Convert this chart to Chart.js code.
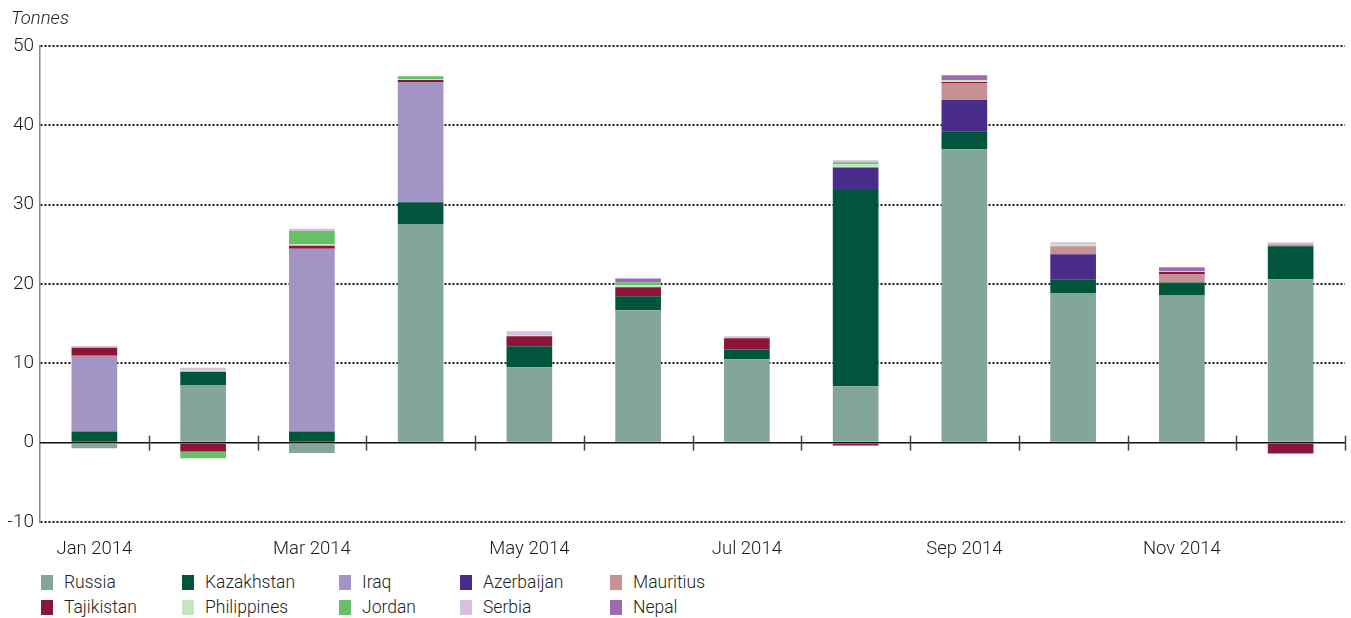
<!DOCTYPE html>
<html lang="en">
<head>
    <meta charset="UTF-8">
    <title>Tonnes by origin, 2014</title>
    <script src="https://cdn.jsdelivr.net/npm/chart.js"></script>
    <style>
        body {
            margin: 0;
            padding: 0;
            background: #fff;
            font-family: 'Roboto', 'Liberation Sans', sans-serif;
            color: #222;
        }

        .wrap {
            position: relative;
            width: 1351px;
            height: 618px;
        }

        .chart-box {
            position: absolute;
            left: 0;
            top: 0;
            width: 1351px;
            height: 562px;
        }

        .unit {
            position: absolute;
            left: 11px;
            top: 7px;
            font-size: 18.5px;
            font-style: italic;
            font-weight: 300;
        }

        .legend {
            position: absolute;
            left: 0;
            top: 572px;
            width: 1351px;
        }

        .legend .item {
            position: absolute;
            font-size: 17.5px;
            font-weight: 300;
            line-height: 20px;
            white-space: nowrap;
        }

        .legend .item span {
            display: inline-block;
            width: 12px;
            height: 15px;
            margin-right: 11px;
            vertical-align: -2px;
        }
    </style>
</head>
<body>
    <div class="wrap">
        <div class="chart-box">
            <canvas id="myChart"></canvas>
        </div>
        <div class="unit">Tonnes</div>
        <div class="legend" id="legend"></div>
    </div>
    <script>
        const months = ['Jan 2014', 'Feb 2014', 'Mar 2014', 'Apr 2014', 'May 2014', 'Jun 2014',
                        'Jul 2014', 'Aug 2014', 'Sep 2014', 'Oct 2014', 'Nov 2014', 'Dec 2014'];

        const russia      = [-0.7, 7.2, -1.3, 27.5, 9.5, 16.7, 10.5, 7.1, 37.0, 18.8, 18.55, 20.6];
        const kazakhstan  = [1.4, 1.75, 1.4, 2.8, 2.65, 1.75, 1.25, 24.75, 2.25, 1.8, 1.65, 4.15];
        const iraq        = [9.4, 0, 23.05, 15.15, 0, 0, 0, 0, 0, 0, 0, 0];
        const azerbaijan  = [0, 0, 0, 0, 0, 0, 0, 2.85, 3.95, 3.15, 0, 0];
        const mauritius   = [0.15, 0, 0, 0, 0, 0, 0, 0, 2.15, 1.0, 1.0, 0.25];
        const tajikistan  = [1.0, -1.1, 0.38, 0.25, 1.25, 1.15, 1.4, -0.35, 0.1, 0, 0.3, -1.35];
        const philippines = [0, 0.15, 0.17, 0.1, 0.1, 0.25, 0, 0.4, 0.25, 0.25, 0, 0];
        const jordan      = [0, -0.85, 1.7, 0.4, 0, 0.35, 0, 0.25, 0, 0, 0, 0];
        const serbia      = [0.25, 0.35, 0.25, 0, 0.55, 0, 0.25, 0.25, 0, 0.25, 0.1, 0.25];
        const nepal       = [0, 0, 0, 0, 0, 0.5, 0, 0, 0.6, 0, 0.5, 0];

        const yTicks = [50, 40, 30, 20, 10, 0, -10];

        const series = [
            { label: 'Russia',      data: russia,      color: '#84a59a' },
            { label: 'Kazakhstan',  data: kazakhstan,  color: '#00553c' },
            { label: 'Iraq',        data: iraq,        color: '#a295c6' },
            { label: 'Azerbaijan',  data: azerbaijan,  color: '#4a2d8a' },
            { label: 'Mauritius',   data: mauritius,   color: '#c69193' },
            { label: 'Tajikistan',  data: tajikistan,  color: '#8c1538' },
            { label: 'Philippines', data: philippines, color: '#c5e4c0' },
            { label: 'Jordan',      data: jordan,      color: '#68bf6a' },
            { label: 'Serbia',      data: serbia,      color: '#d5c1de' },
            { label: 'Nepal',       data: nepal,       color: '#9d6cb0' }
        ];

        // zero line + category boundary ticks sitting on it
        const zeroLine = {
            id: 'zeroLine',
            beforeDatasetsDraw(chart) {
                const ctx = chart.ctx;
                const x = chart.scales.x;
                const y0 = chart.scales.y.getPixelForValue(0);
                const step = x.getPixelForValue(1) - x.getPixelForValue(0);
                ctx.save();
                ctx.strokeStyle = '#111';
                ctx.lineWidth = 1.5;
                ctx.beginPath();
                ctx.moveTo(chart.chartArea.left, y0);
                ctx.lineTo(chart.chartArea.right, y0);
                ctx.stroke();
                ctx.strokeStyle = '#444';
                for (let i = 0; i < months.length; i++) {
                    const px = Math.round(x.getPixelForValue(i) + step / 2) + 0.5;
                    ctx.beginPath();
                    ctx.moveTo(px, y0 - 7);
                    ctx.lineTo(px, y0 + 8);
                    ctx.stroke();
                }
                ctx.restore();
            }
        };

        const ctx = document.getElementById('myChart').getContext('2d');
        new Chart(ctx, {
            type: 'bar',
            data: {
                labels: months,
                datasets: series.map(s => ({
                    label: s.label,
                    data: s.data,
                    backgroundColor: s.color,
                    borderWidth: 0,
                    barPercentage: 0.42,
                    categoryPercentage: 1.0
                }))
            },
            options: {
                responsive: true,
                maintainAspectRatio: false,
                animation: false,
                layout: {
                    padding: { top: 46, right: 6, left: 0, bottom: 0 }
                },
                plugins: {
                    legend: { display: false },
                    tooltip: { enabled: false }
                },
                scales: {
                    x: {
                        stacked: true,
                        grid: { display: false, drawTicks: false },
                        border: { display: false },
                        ticks: {
                            autoSkip: false,
                            maxRotation: 0,
                            padding: 16,
                            color: '#1a1a1a',
                            font: { family: 'Roboto', size: 18.5, weight: 300 },
                            callback: function(value, index) {
                                return index % 2 === 0 ? months[index] : '';
                            }
                        },
                        afterFit: function(scale) { scale.height = 40; }
                    },
                    y: {
                        stacked: true,
                        min: -10,
                        max: 50,
                        afterBuildTicks: function(scale) {
                            scale.ticks = yTicks.map(v => ({ value: v }));
                        },
                        grid: {
                            drawTicks: false,
                            lineWidth: 2,
                            color: c => c.tick && c.tick.value === 0 ? 'rgba(0,0,0,0)' : '#1a1a1a'
                        },
                        border: {
                            display: true,
                            color: '#888',
                            width: 1.5,
                            dash: [2, 2]
                        },
                        ticks: {
                            padding: 6,
                            color: '#1a1a1a',
                            font: { family: 'Roboto', size: 19, weight: 300 }
                        },
                        afterFit: function(scale) { scale.width = 40; }
                    }
                }
            },
            plugins: [zeroLine]
        });

        // legend: 5 columns, 2 rows
        const colX = [41, 182, 339, 460, 610];
        const legend = document.getElementById('legend');
        series.forEach((s, i) => {
            const item = document.createElement('div');
            item.className = 'item';
            item.style.left = colX[i % 5] + 'px';
            item.style.top = (Math.floor(i / 5) * 25) + 'px';
            item.innerHTML = '<span style="background:' + s.color + '"></span>' + s.label;
            legend.appendChild(item);
        });
    </script>
</body>
</html>
